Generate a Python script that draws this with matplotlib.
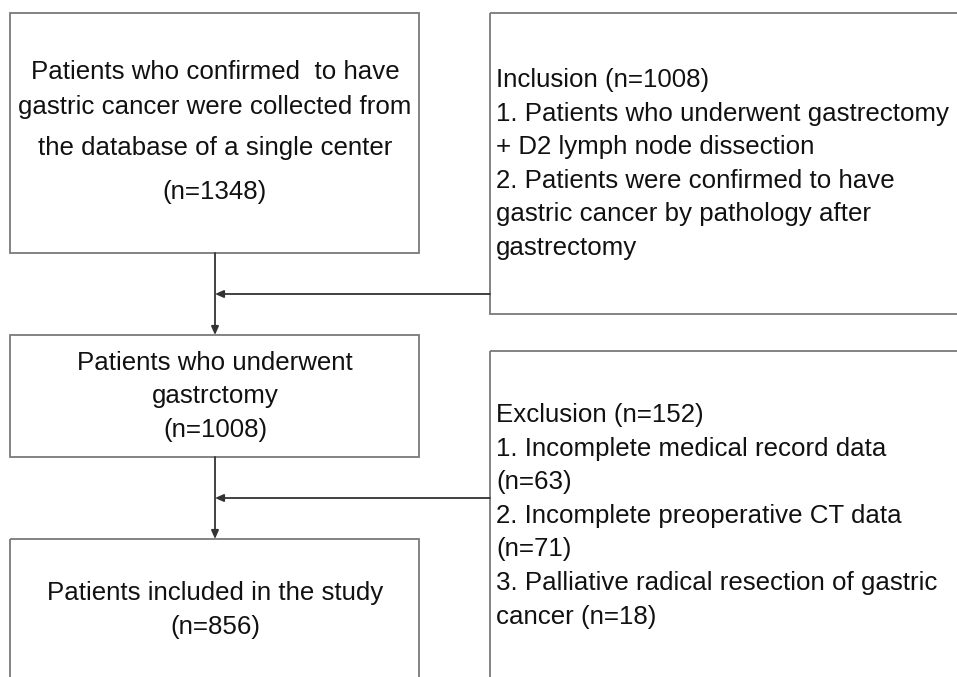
import matplotlib
matplotlib.use('Agg')
import matplotlib.pyplot as plt
from matplotlib.patches import Rectangle

plt.rcParams['font.family'] = ['Liberation Sans', 'DejaVu Sans']

# flowchart content
start_lines = ["Patients who confirmed  to have",
               "gastric cancer were collected from",
               "the database of a single center",
               "(n=1348)"]
mid_lines = ["Patients who underwent", "gastrctomy", "(n=1008)"]
end_lines = ["Patients included in the study", "(n=856)"]
incl_lines = ["Inclusion (n=1008)",
              "1. Patients who underwent gastrectomy",
              "+ D2 lymph node dissection",
              "2. Patients were confirmed to have",
              "gastric cancer by pathology after",
              "gastrectomy"]
excl_lines = ["Exclusion (n=152)",
              "1. Incomplete medical record data",
              "(n=63)",
              "2. Incomplete preoperative CT data",
              "(n=71)",
              "3. Palliative radical resection of gastric",
              "cancer (n=18)"]

fig = plt.figure(figsize=(9.57, 6.77), dpi=100)
ax = fig.add_axes([0, 0, 1, 1])
ax.set_xlim(0, 957)
ax.set_ylim(677, 0)
ax.axis('off')

edge = '#7a7a7a'
lw = 1.3
fs = 18.6

def box(x, y, w, h):
    ax.add_patch(Rectangle((x, y), w, h, fill=False, edgecolor=edge, lw=lw))

box(10, 13, 409, 240)
box(10, 335, 409, 122)
box(10, 539, 409, 200)
box(490, 13, 480, 301)
box(490, 351, 480, 400)

for t, y in zip(start_lines, [72, 107, 148, 192]):
    ax.text(215, y, t, ha='center', va='center', fontsize=fs, color='#111')
for i, t in enumerate(mid_lines):
    ax.text(215, 363 + i * 33.5, t, ha='center', va='center', fontsize=fs, color='#111')
for i, t in enumerate(end_lines):
    ax.text(215, 593 + i * 34, t, ha='center', va='center', fontsize=fs, color='#111')
for i, t in enumerate(incl_lines):
    ax.text(496, 80 + i * 33.6, t, ha='left', va='center', fontsize=fs, color='#111')
for i, t in enumerate(excl_lines):
    ax.text(496, 415 + i * 33.6, t, ha='left', va='center', fontsize=fs, color='#111')

arr = dict(arrowstyle='-|>,head_length=0.5,head_width=0.22', color='#333333', lw=1.3,
           shrinkA=0, shrinkB=0)
# vertical arrows
ax.annotate('', xy=(215, 335), xytext=(215, 253), arrowprops=arr)
ax.annotate('', xy=(215, 539), xytext=(215, 457), arrowprops=arr)
# horizontal arrows from side boxes
ax.annotate('', xy=(215, 294), xytext=(490, 294), arrowprops=arr)
ax.annotate('', xy=(215, 498), xytext=(490, 498), arrowprops=arr)

fig.savefig('out.png', dpi=100)
